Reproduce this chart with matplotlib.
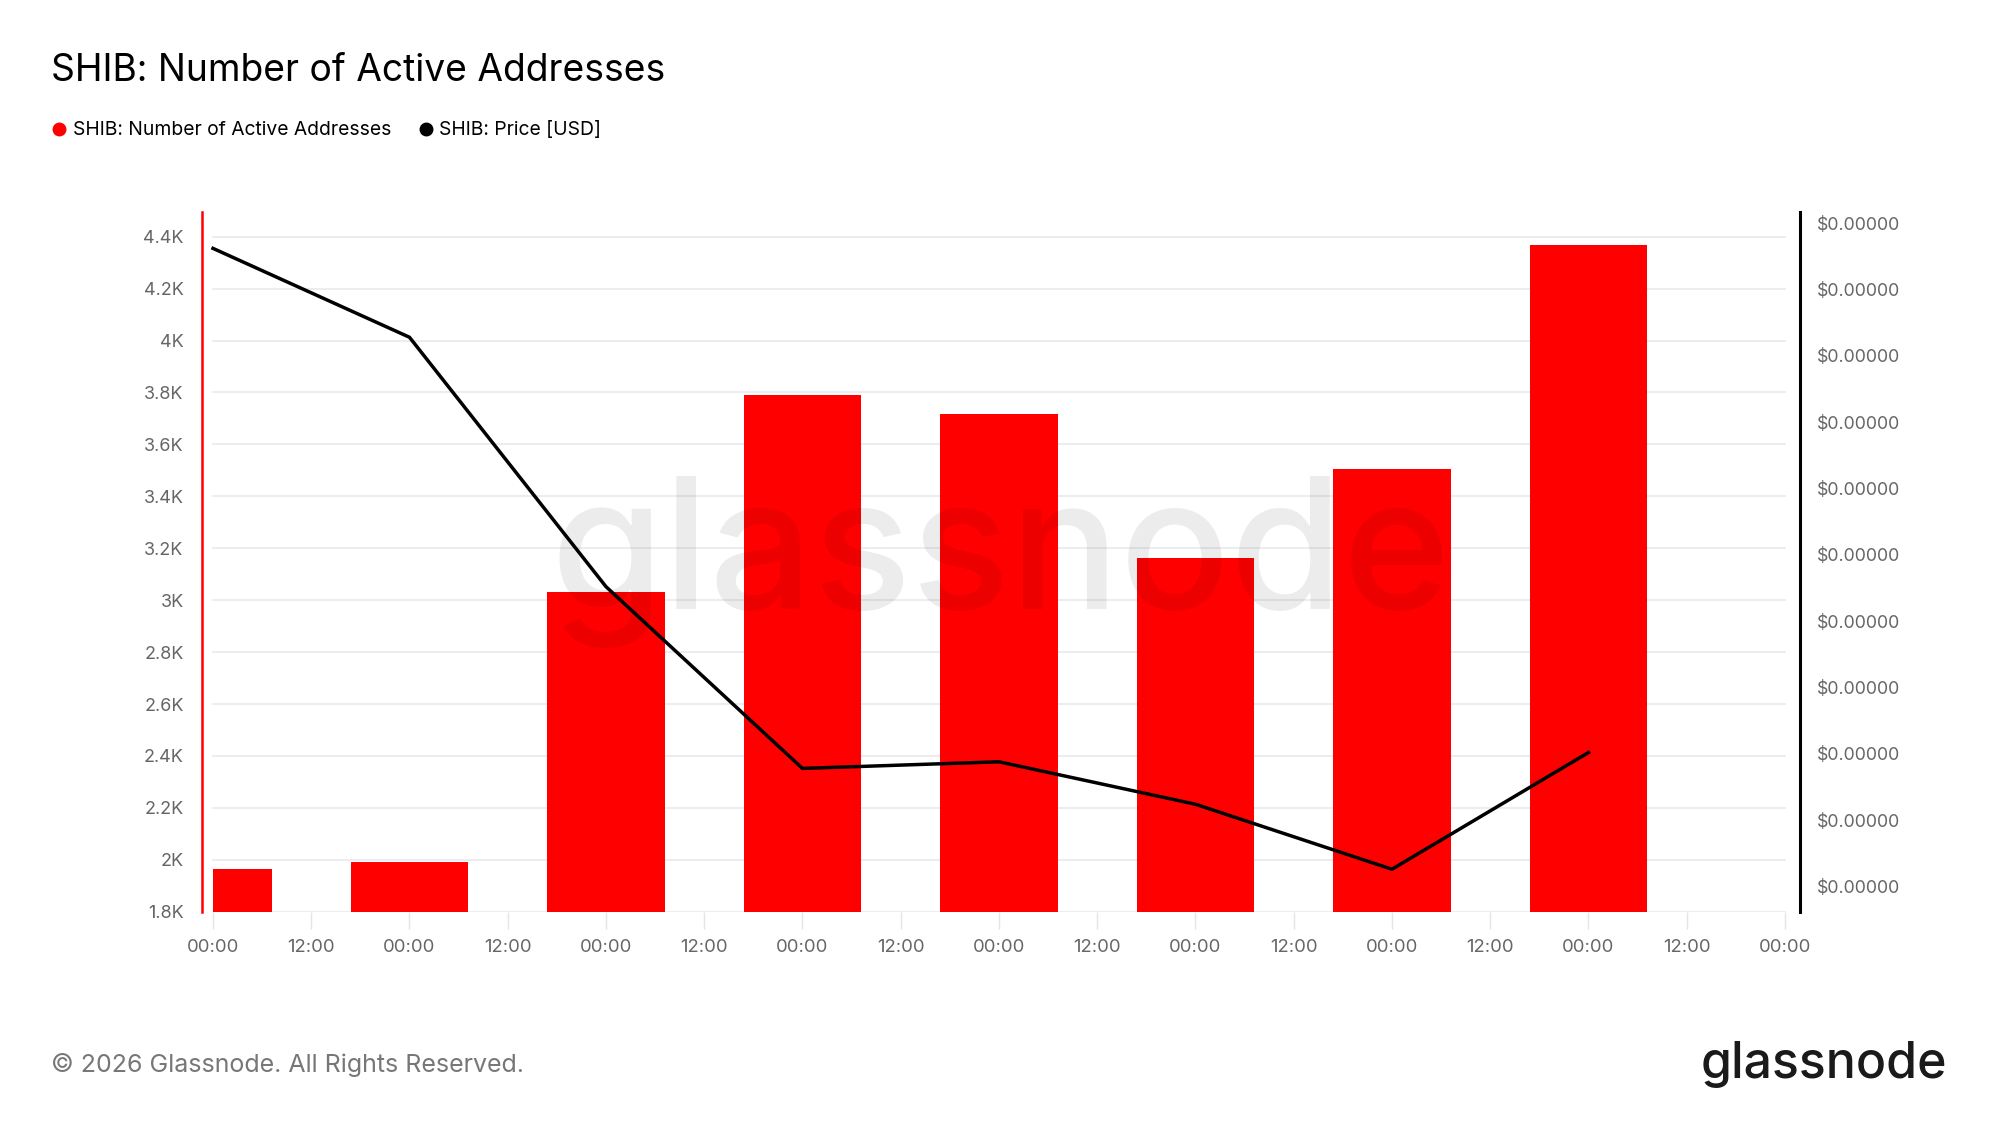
import numpy as np
import matplotlib.pyplot as plt
from matplotlib.lines import Line2D
from matplotlib.transforms import Bbox, TransformedBbox

plt.rcParams['font.family'] = ['Inter', 'DejaVu Sans']

# daily values, x = days from first 00:00
days = [0, 1, 2, 3, 4, 5, 6, 7]
active_addresses = [1964, 1991, 3033, 3789, 3718, 3163, 3506, 4369]
price_usd = [6.481e-6, 6.414e-6, 6.226e-6, 6.089e-6, 6.094e-6, 6.062e-6, 6.013e-6, 6.101e-6]

left_ticks = [1800, 2000, 2200, 2400, 2600, 2800, 3000, 3200, 3400, 3600, 3800, 4000, 4200, 4400]
right_ticks = [6.00e-6, 6.05e-6, 6.10e-6, 6.15e-6, 6.20e-6, 6.25e-6, 6.30e-6, 6.35e-6, 6.40e-6, 6.45e-6, 6.50e-6]
x_ticks = np.arange(0, 8.01, 0.5)
x_labels = ['00:00' if t % 1 == 0 else '12:00' for t in x_ticks]

RED = '#ff0000'
GRID = '#ececf0'
LABEL = '#666666'

fig = plt.figure(figsize=(19.99, 11.25), dpi=100)
ax = fig.add_axes([0.1009, 0.1896, 0.7996, 0.6224])
ax2 = ax.twinx()

# grid lines only span the data range
for v in left_ticks:
    ax.plot([0, 8], [v, v], color=GRID, lw=1.3, zorder=0)

# bars 0.6 day wide, first one cut at the start of the range
half = 0.3
lefts = [max(d - half, 0) for d in days]
rights = [d + half for d in days]
widths = [r - l for l, r in zip(lefts, rights)]
ax.bar(lefts, [v - 1800 for v in active_addresses], width=widths, bottom=1800,
       align='edge', color=RED, zorder=2)

ax.text(0.5, 0.432, 'glassnode', transform=ax.transAxes, ha='center', va='baseline',
        fontsize=131.5, color='black', alpha=0.075, fontweight='medium', zorder=3)

ax2.plot(days, price_usd, color='black', lw=2.5, zorder=5)

ax.set_xlim(-0.0575, 8.077)
ax.set_ylim(1800, 4497)
ax2.set_ylim(5.981e-6, 6.5088e-6)

ax.set_yticks(left_ticks)
ax.set_yticklabels(['%gK' % (v / 1000) for v in left_ticks])
ax.set_xticks(x_ticks)
ax.set_xticklabels(x_labels)
ax.tick_params(axis='y', length=0, pad=13, labelsize=13, labelcolor=LABEL)
ax.tick_params(axis='x', length=12, width=1, color='#e4e4ea', pad=8,
               labelsize=13.3, labelcolor=LABEL)

ax2.set_yticks(right_ticks)
ax2.set_yticklabels(['$%.8f' % v for v in right_ticks])
ax2.tick_params(axis='y', length=0, pad=12, labelsize=12.8, labelcolor=LABEL)

for s in ['top', 'bottom', 'right']:
    ax.spines[s].set_visible(False)
ax.spines['left'].set_color(RED)
ax.spines['left'].set_linewidth(1.8)
for s in ['top', 'bottom', 'left']:
    ax2.spines[s].set_visible(False)
ax2.spines['right'].set_color('black')
ax2.spines['right'].set_linewidth(2.2)

# right labels are cut off at the image edge
clip = TransformedBbox(Bbox([[0, 0], [0.9501, 1]]), fig.transFigure)
for lab in ax2.get_yticklabels():
    lab.set_clip_box(clip)
    lab.set_clip_on(True)

fig.text(51 / 1999, 1 - 71 / 1125, 'SHIB: Number of Active Addresses',
         fontsize=26.8, va='center', ha='left', color='black')

# legend
fig.add_artist(Line2D([58.6 / 1999], [1 - 129 / 1125], marker='o', markersize=9,
                      color=RED, transform=fig.transFigure))
fig.text(72.7 / 1999, 1 - 129.5 / 1125, 'SHIB: Number of Active Addresses',
         fontsize=13.9, va='center', ha='left')
fig.add_artist(Line2D([425.8 / 1999], [1 - 129 / 1125], marker='o', markersize=9,
                      color='black', transform=fig.transFigure))
fig.text(438.6 / 1999, 1 - 129.5 / 1125, 'SHIB: Price [USD]',
         fontsize=13.9, va='center', ha='left')

fig.text(51 / 1999, 1 - 1065.5 / 1125, '\u00a9 2026 Glassnode. All Rights Reserved.',
         fontsize=18, va='center', ha='left', color='#777777')
fig.text(1947 / 1999, 1 - 1064 / 1125, 'glassnode', fontsize=36, fontweight='medium',
         va='center', ha='right', color='#1a1a1a')

fig.savefig('out.png', dpi=100)
